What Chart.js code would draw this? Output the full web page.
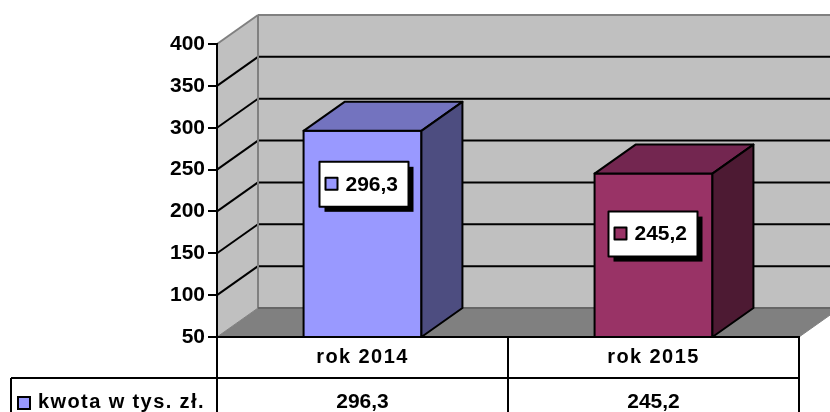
<!DOCTYPE html>
<html lang="pl">
<head>
  <meta charset="UTF-8">
  <title>kwota w tys. zł.</title>
  <script src="https://cdn.jsdelivr.net/npm/chart.js"></script>
  <style>
    html, body { margin: 0; padding: 0; background: #fff; overflow: hidden; }
    canvas { display: block; }
  </style>
</head>
<body>
  <canvas id="wykres" width="830" height="412"></canvas>

  <script>
    // Dane
    const kategorie = ['rok 2014', 'rok 2015'];
    const kwoty = [296.3, 245.2];
    const etykiety = ['296,3', '245,2'];
    const nazwaSerii = 'kwota w tys. zł.';

    // Kolory
    const koloryPrzod = ['#9999FF', '#993366'];
    const koloryGora = ['#7373BF', '#732650'];
    const koloryBok = ['#4D4D80', '#4D1A33'];

    const glebX = 41;
    const glebY = 29;
    const rodzina = '"Liberation Sans", Arial, sans-serif';
    const czcionka = 'bold 21px ' + rodzina;
    const czcionkaTab = 'bold 20px ' + rodzina;

    function wielokat(ctx, pkt, wypelnienie, linia, grubosc) {
      ctx.beginPath();
      pkt.forEach((p, i) => i ? ctx.lineTo(p[0], p[1]) : ctx.moveTo(p[0], p[1]));
      ctx.closePath();
      ctx.fillStyle = wypelnienie;
      ctx.fill();
      if (linia) {
        ctx.strokeStyle = linia;
        ctx.lineWidth = grubosc;
        ctx.stroke();
      }
    }

    function odcinek(ctx, x1, y1, x2, y2, kolor, grubosc) {
      ctx.beginPath();
      ctx.moveTo(x1, y1);
      ctx.lineTo(x2, y2);
      ctx.strokeStyle = kolor;
      ctx.lineWidth = grubosc;
      ctx.stroke();
    }

    // Sciany, podloga i siatka 3D
    const sciany = {
      id: 'sciany',
      beforeDraw(chart) {
        const ctx = chart.ctx;
        const { left, right, top, bottom } = chart.chartArea;
        ctx.save();
        wielokat(ctx, [[left + glebX, top - glebY], [right + glebX, top - glebY], [right + glebX, bottom - glebY], [left + glebX, bottom - glebY]], '#C0C0C0');
        wielokat(ctx, [[left, top], [left + glebX, top - glebY], [left + glebX, bottom - glebY], [left, bottom]], '#C0C0C0');
        wielokat(ctx, [[left, bottom], [left + glebX, bottom - glebY], [right + glebX, bottom - glebY], [right, bottom]], '#808080');

        chart.scales.y.ticks.forEach(t => {
          const y = chart.scales.y.getPixelForValue(t.value);
          if (t.value > chart.scales.y.min && t.value < chart.scales.y.max) {
            odcinek(ctx, left, y, left + glebX, y - glebY, '#000', 2);
            odcinek(ctx, left + glebX, y - glebY, right + glebX, y - glebY, '#000', 2);
          }
        });
        odcinek(ctx, left, top, left + glebX, top - glebY, '#808080', 2);
        odcinek(ctx, left + glebX, top - glebY, right + glebX, top - glebY, '#808080', 2);
        odcinek(ctx, left + glebX, top - glebY, left + glebX, bottom - glebY, '#808080', 2);
        odcinek(ctx, left + glebX, bottom - glebY, right + glebX, bottom - glebY, '#666', 2);
        odcinek(ctx, left, bottom, left + glebX, bottom - glebY, '#808080', 1);
        odcinek(ctx, right, bottom, right + glebX, bottom - glebY, '#808080', 1);
        ctx.restore();
      }
    };

    // Boczne i gorne sciany slupkow oraz etykiety wartosci
    const slupki3d = {
      id: 'slupki3d',
      afterDatasetsDraw(chart) {
        const ctx = chart.ctx;
        const dolOsi = chart.chartArea.bottom;
        ctx.save();
        ctx.lineJoin = 'round';
        chart.getDatasetMeta(0).data.forEach((bar, i) => {
          const l = bar.x - bar.width / 2;
          const r = bar.x + bar.width / 2;
          wielokat(ctx, [[l, bar.y], [r, bar.y], [r, dolOsi], [l, dolOsi]], koloryPrzod[i], '#000', 2);
          wielokat(ctx, [[l, bar.y], [l + glebX, bar.y - glebY], [r + glebX, bar.y - glebY], [r, bar.y]], koloryGora[i], '#000', 2);
          wielokat(ctx, [[r, bar.y], [r + glebX, bar.y - glebY], [r + glebX, dolOsi - glebY], [r, dolOsi]], koloryBok[i], '#000', 2);
        });

        const przesuniecia = [[1, 53], [-1, 60]];
        chart.getDatasetMeta(0).data.forEach((bar, i) => {
          const sx = bar.x + przesuniecia[i][0];
          const sy = bar.y + przesuniecia[i][1];
          ctx.fillStyle = '#000';
          ctx.fillRect(sx - 39, sy - 17, 89, 45);
          wielokat(ctx, [[sx - 44, sy - 22], [sx + 45, sy - 22], [sx + 45, sy + 23], [sx - 44, sy + 23]], '#fff', '#000', 2);
          wielokat(ctx, [[sx - 38, sy - 6], [sx - 26, sy - 6], [sx - 26, sy + 6], [sx - 38, sy + 6]], koloryPrzod[i], '#000', 2);
          ctx.fillStyle = '#000';
          ctx.font = czcionka;
          ctx.textAlign = 'left';
          ctx.textBaseline = 'middle';
          ctx.fillText(etykiety[i], sx - 18, sy + 1);
        });
        ctx.restore();
      }
    };

    // Tabela danych pod wykresem
    const tabela = {
      id: 'tabela',
      afterDraw(chart) {
        const ctx = chart.ctx;
        const { left, right, bottom } = chart.chartArea;
        const w = (right - left) / kategorie.length;
        const dol = 412;
        const linia = 378;
        ctx.save();
        odcinek(ctx, left, bottom, left, dol, '#000', 2);
        odcinek(ctx, right, bottom, right, dol, '#000', 2);
        odcinek(ctx, left + w, bottom, left + w, dol, '#000', 2);
        odcinek(ctx, 11, linia, right, linia, '#000', 2);
        odcinek(ctx, 11, linia, 11, dol, '#000', 2);

        ctx.fillStyle = '#000';
        ctx.textAlign = 'center';
        ctx.textBaseline = 'alphabetic';
        kategorie.forEach((k, i) => {
          const x = chart.scales.x.getPixelForValue(i);
          ctx.font = czcionkaTab;
          ctx.letterSpacing = '1.4px';
          ctx.fillText(k, x, 363);
          ctx.font = czcionka;
          ctx.letterSpacing = '0px';
          ctx.fillText(etykiety[i], x, 408);
        });

        ctx.textAlign = 'left';
        ctx.font = czcionkaTab;
        ctx.letterSpacing = '1.4px';
        ctx.fillText(nazwaSerii, 38, 408);
        ctx.letterSpacing = '0px';
        wielokat(ctx, [[18, 397], [30, 397], [30, 409], [18, 409]], koloryPrzod[0], '#000', 2);
        ctx.restore();
      }
    };

    new Chart(document.getElementById('wykres'), {
      type: 'bar',
      data: {
        labels: kategorie,
        datasets: [{
          label: nazwaSerii,
          data: kwoty,
          backgroundColor: koloryPrzod,
          borderColor: '#000',
          borderWidth: 2,
          barPercentage: 0.405,
          categoryPercentage: 1
        }]
      },
      options: {
        responsive: false,
        animation: false,
        devicePixelRatio: 1,
        layout: { padding: { top: 44, right: 31, left: 0, bottom: 0 } },
        plugins: { legend: { display: false }, tooltip: { enabled: false } },
        scales: {
          x: {
            afterFit(s) { s.height = 75; },
            grid: { display: false },
            border: { color: '#000', width: 2 },
            ticks: { display: false }
          },
          y: {
            min: 50,
            max: 400,
            afterFit(s) { s.width = 217; },
            grid: { drawOnChartArea: false, color: '#000', lineWidth: 2, tickLength: 9 },
            border: { color: '#000', width: 2 },
            ticks: {
              stepSize: 50,
              padding: 3,
              color: '#000',
              font: { family: rodzina, size: 21, weight: 'bold' }
            }
          }
        }
      },
      plugins: [sciany, slupki3d, tabela]
    });
  </script>
</body>
</html>
